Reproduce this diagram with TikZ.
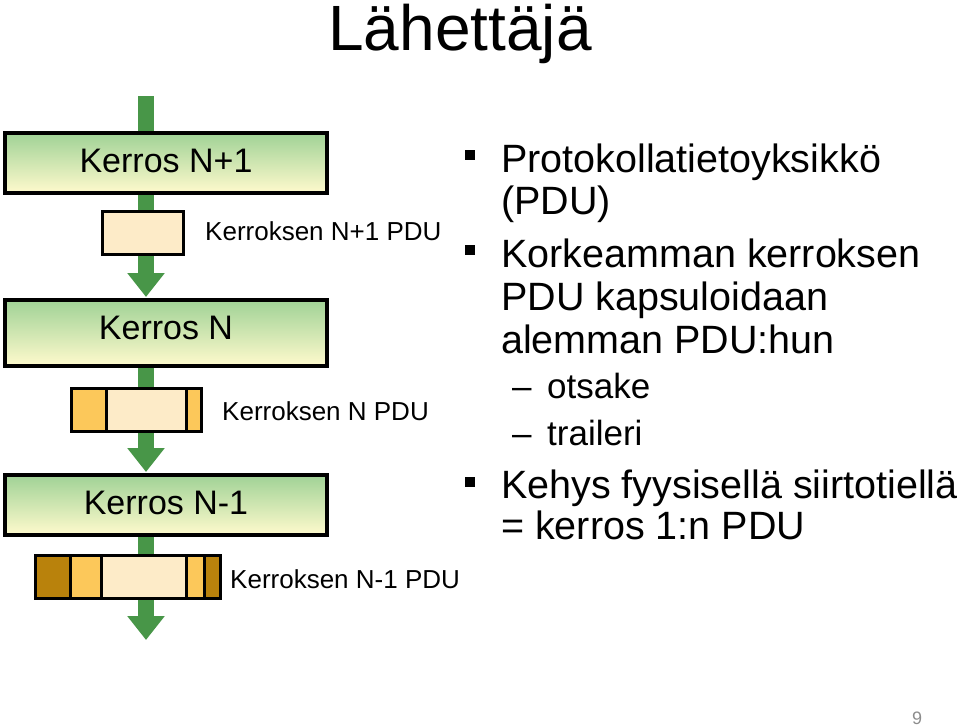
\documentclass[tikz,border=0pt]{standalone}
\usepackage{fontspec}
\setmainfont{Liberation Sans}
\usetikzlibrary{arrows.meta}
\pgfdeclarelayer{background}
\pgfsetlayers{background,main}
\definecolor{arrowgreen}{RGB}{72,150,72}
\definecolor{layertop}{RGB}{160,210,150}
\definecolor{layerbot}{RGB}{255,250,205}
\definecolor{peach}{RGB}{253,235,200}
\definecolor{hdr}{RGB}{252,200,90}
\definecolor{dark}{RGB}{185,130,12}
\definecolor{pagegray}{RGB}{140,140,140}
\begin{document}
\begin{tikzpicture}[x=1pt,y=-1pt,
  layerbox/.style={draw=black, line width=4pt, top color=layertop, bottom color=layerbot,
    minimum width=322pt, inner sep=0pt, text depth=4pt, font=\fontsize{34}{40}\selectfont},
  pdubox/.style={draw=black, line width=3pt, inner sep=0pt},
  flow/.style={arrowgreen, line width=16pt},
  flowtip/.style={flow, -{Triangle[width=36pt,length=24pt]}},
  lbl/.style={anchor=base west, inner sep=0pt, font=\fontsize{26}{30}\selectfont},
  bigtxt/.style={anchor=base west, inner sep=0pt, font=\fontsize{39.5}{44}\selectfont},
  subtxt/.style={anchor=base west, inner sep=0pt, font=\fontsize{35}{40}\selectfont},
  bullet/.style={fill=black, minimum size=10pt, inner sep=0pt}
]
\useasboundingbox (0,0) rectangle (960,726);

% title
\node[anchor=base, inner sep=0pt, font=\fontsize{64}{70}\selectfont] (title) at (460,50) {Lähettäjä};

% layer boxes
\node[layerbox, minimum height=60pt] (b1) at (166,163) {Kerros N+1};
\node[layerbox, minimum height=66pt, text depth=10pt] (b2) at (166,333) {Kerros N};
\node[layerbox, minimum height=60pt, text depth=5pt] (b3) at (166,505) {Kerros N-1};

\coordinate (src) at (146,96);
\coordinate (dst) at (146,640);

% green flow arrows behind
\begin{pgfonlayer}{background}
\draw[flow] (src) -- (src |- b1.north);
\draw[flowtip, shorten >=1pt] (src |- b1.south) -- (src |- b2.north);
\draw[flowtip, shorten >=1pt] (src |- b2.south) -- (src |- b3.north);
\draw[flowtip] (src |- b3.south) -- (dst);
\end{pgfonlayer}

% N+1 PDU
\node[pdubox, fill=peach, minimum width=81pt, minimum height=43pt] (p1) at (143,233) {};
% N PDU
\fill[hdr] (71.5,388.5) rectangle (106,431.5);
\fill[peach] (106,388.5) rectangle (186,431.5);
\fill[hdr] (186,388.5) rectangle (201.5,431.5);
\node[pdubox, minimum width=130pt, minimum height=43pt] (p2) at (136.5,410) {};
\draw[line width=3pt] (106,388.5) -- (106,431.5) (186,388.5) -- (186,431.5);
% N-1 PDU
\fill[dark] (35.5,555.5) rectangle (70,598.5);
\fill[hdr] (70,555.5) rectangle (101,598.5);
\fill[peach] (101,555.5) rectangle (186,598.5);
\fill[hdr] (186,555.5) rectangle (204,598.5);
\fill[dark] (204,555.5) rectangle (220.5,598.5);
\node[pdubox, minimum width=185pt, minimum height=43pt] (p3) at (128,577) {};
\draw[line width=3pt] (70,555.5) -- (70,598.5) (101,555.5) -- (101,598.5)
  (186,555.5) -- (186,598.5) (204,555.5) -- (204,598.5);

% PDU labels
\node[lbl] (l1) at (205,240) {Kerroksen N+1 PDU};
\node[lbl] (l2) at (222,420) {Kerroksen N PDU};
\node[lbl] (l3) at (230,588) {Kerroksen N-1 PDU};

% bullet text
\node[bullet] (s1) at (470,155) {};
\node[bigtxt] (t1) at (501,172) {Protokollatietoyksikkö};
\node[bigtxt] (t2) at (501,214) {(PDU)};
\node[bullet] (s2) at (470,250) {};
\node[bigtxt] (t3) at (501,267) {Korkeamman kerroksen};
\node[bigtxt] (t4) at (501,310) {PDU kapsuloidaan};
\node[bigtxt] (t5) at (501,353) {alemman PDU:hun};
\node[subtxt] (d1) at (512,398) {–};
\node[subtxt] (t6) at (547,398) {otsake};
\node[subtxt] (d2) at (512,445) {–};
\node[subtxt] (t7) at (547,445) {traileri};
\node[bullet] (s3) at (470,482) {};
\node[bigtxt] (t8) at (501,498) {Kehys fyysisellä siirtotiellä};
\node[bigtxt] (t9) at (501,539) {= kerros 1:n PDU};

% page number
\node[anchor=base, inner sep=0pt, text=pagegray, font=\fontsize{18}{20}\selectfont] (pg) at (917,724) {9};
\end{tikzpicture}
\end{document}
